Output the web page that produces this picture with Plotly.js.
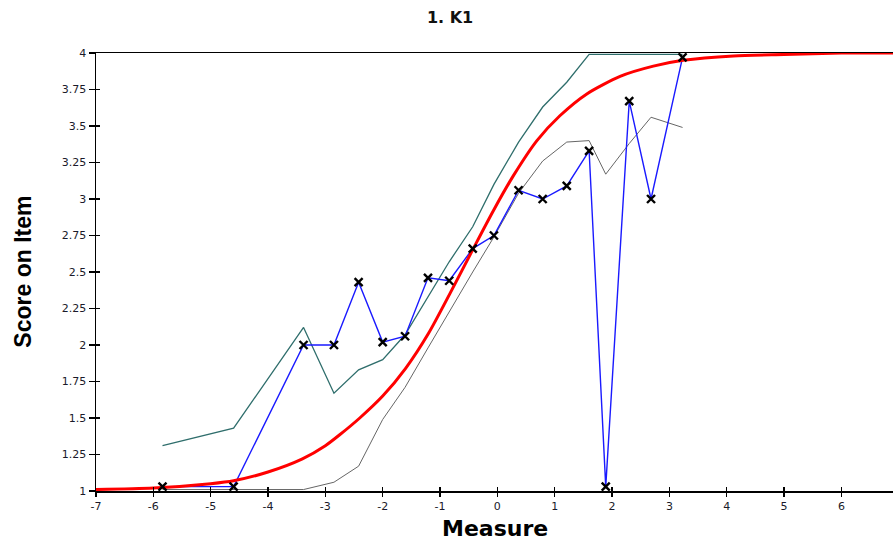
<!DOCTYPE html>
<html>
<head>
<meta charset="utf-8">
<script src="https://cdn.plot.ly/plotly-3.0.1.min.js"></script>
<style>html,body{margin:0;padding:0;background:#fff;}#chart{width:893px;height:542px;}</style>
</head>
<body>
<div id="chart"></div>
<script>
// Observed mean scores (blue, with x markers)
const obsX = [-5.84, -4.60, -3.38, -2.85, -2.42, -2.00, -1.61, -1.21, -0.84, -0.43, -0.06, 0.37, 0.79, 1.21, 1.60, 1.89, 2.30, 2.68, 3.23];
const obsY = [1.03, 1.03, 2.00, 2.00, 2.43, 2.02, 2.06, 2.46, 2.44, 2.66, 2.75, 3.06, 3.00, 3.09, 3.33, 1.03, 3.67, 3.00, 3.97];
// Upper confidence band (teal)
const upperY = [1.31, 1.43, 2.12, 1.67, 1.83, 1.90, 2.07, 2.33, 2.57, 2.81, 3.10, 3.39, 3.63, 3.80, 3.99, 3.99, 3.99, 3.99, 3.99];
// Lower confidence band (gray)
const lowerY = [1.01, 1.01, 1.01, 1.06, 1.17, 1.49, 1.71, 1.98, 2.23, 2.50, 2.74, 3.04, 3.26, 3.39, 3.40, 3.17, 3.38, 3.56, 3.49];
// Model expected score curve (red)
const modelX = [-7, -6, -5, -4.6, -4, -3.4, -3, -2.75, -2.4, -2, -1.6, -1.2, -0.83, -0.42, -0.07, 0.28, 0.69, 1.09, 1.56, 2.14, 2.72, 3.24, 4.12, 5, 6, 6.9];
const modelY = [1.01, 1.02, 1.05, 1.07, 1.13, 1.22, 1.31, 1.385, 1.50, 1.65, 1.84, 2.08, 2.35, 2.66, 2.92, 3.16, 3.40, 3.57, 3.72, 3.84, 3.91, 3.95, 3.98, 3.99, 4.0, 4.0];

const xTicks = [-7, -6, -5, -4, -3, -2, -1, 0, 1, 2, 3, 4, 5, 6];
const yTicks = [1, 1.25, 1.5, 1.75, 2, 2.25, 2.5, 2.75, 3, 3.25, 3.5, 3.75, 4];
const yTickText = ['1', '1.25', '1.5', '1.75', '2', '2.25', '2.5', '2.75', '3', '3.25', '3.5', '3.75', '4'];

const traces = [
  {x: obsX, y: upperY, mode: 'lines', line: {color: '#2f6e6c', width: 1.3}, hoverinfo: 'none'},
  {x: obsX, y: lowerY, mode: 'lines', line: {color: '#666666', width: 1}, hoverinfo: 'none'},
  {x: obsX, y: obsY, mode: 'lines', line: {color: '#1a1aff', width: 1.4}, hoverinfo: 'none'},
  {x: modelX, y: modelY, mode: 'lines', line: {color: '#ff0000', width: 3, shape: 'spline', smoothing: 0.7}, hoverinfo: 'none'},
  {x: obsX, y: obsY, mode: 'markers', cliponaxis: false,
   marker: {symbol: 'x-thin', size: 8, line: {width: 2.4, color: '#000000'}}, hoverinfo: 'none'},
  // invisible trace to activate overlay axes (inside tick halves)
  {x: [-7], y: [1], xaxis: 'x2', yaxis: 'y2', mode: 'markers', marker: {opacity: 0}, hoverinfo: 'none'}
];

const tickFont = {family: 'DejaVu Sans, Arial, sans-serif', size: 11, color: '#1a1a2a'};
const layout = {
  width: 893, height: 542,
  margin: {l: 96, r: 0, t: 53, b: 51},
  paper_bgcolor: '#ffffff', plot_bgcolor: '#ffffff',
  showlegend: false,
  title: {text: '<b>1. K1</b>', x: 0.504, xref: 'container', xanchor: 'center', y: 0.968, yref: 'container', yanchor: 'middle',
          font: {family: 'DejaVu Sans, Arial, sans-serif', size: 16, color: '#111111'}},
  xaxis: {range: [-7, 6.9], tickvals: xTicks, ticktext: xTicks.map(String), ticks: 'outside', ticklen: 4, tickwidth: 1.3, tickcolor: '#000',
          showline: true, linecolor: '#000', linewidth: 1.5, mirror: true, showgrid: false, zeroline: false,
          tickfont: tickFont, fixedrange: true},
  yaxis: {range: [1, 4], tickvals: yTicks, ticktext: yTickText, ticks: 'outside', ticklen: 6, tickwidth: 1.3, tickcolor: '#000',
          showline: true, linecolor: '#000', linewidth: 1.5, showgrid: false, zeroline: false,
          tickfont: tickFont, fixedrange: true},
  xaxis2: {range: [-7, 6.9], overlaying: 'x', tickvals: xTicks, ticks: 'inside', ticklen: 4, tickwidth: 1.3, tickcolor: '#000',
           showticklabels: false, showline: false, showgrid: false, zeroline: false, fixedrange: true},
  yaxis2: {range: [1, 4], overlaying: 'y', tickvals: yTicks, ticks: 'inside', ticklen: 4, tickwidth: 1.3, tickcolor: '#000',
           showticklabels: false, showline: false, showgrid: false, zeroline: false, fixedrange: true},
  annotations: [
    {text: '<b>Measure</b>', xref: 'paper', yref: 'paper', x: 0.5005, y: -0.086, xanchor: 'center', yanchor: 'middle', showarrow: false,
     font: {family: 'DejaVu Sans, Arial, sans-serif', size: 22, color: '#000'}},
    {text: '<b>Score on Item</b>', xref: 'paper', yref: 'paper', x: -0.092, y: 0.5, xanchor: 'center', yanchor: 'middle', showarrow: false, textangle: -90,
     font: {family: 'Liberation Sans Narrow, Arial Narrow, Liberation Sans, Arial, sans-serif', size: 23, color: '#000'}}
  ]
};

Plotly.newPlot('chart', traces, layout, {displayModeBar: false, staticPlot: true});
</script>
</body>
</html>
